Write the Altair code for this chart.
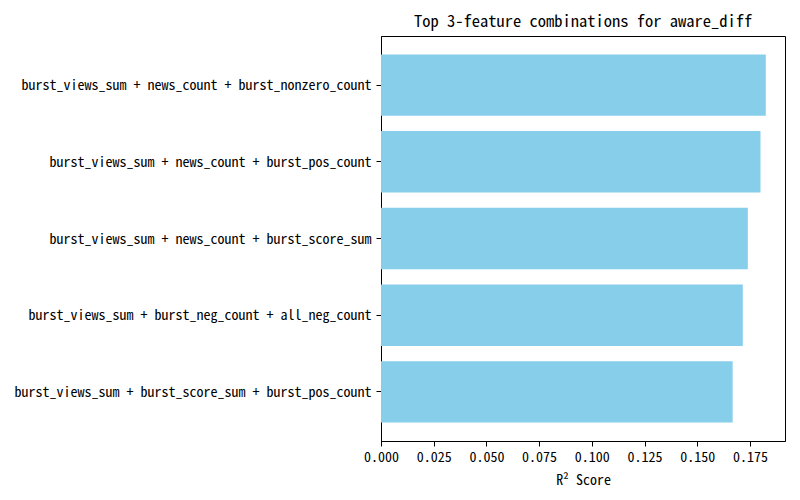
import altair as alt
import pandas as pd

combos = [
    "burst_views_sum + news_count + burst_nonzero_count",
    "burst_views_sum + news_count + burst_pos_count",
    "burst_views_sum + news_count + burst_score_sum",
    "burst_views_sum + burst_neg_count + all_neg_count",
    "burst_views_sum + burst_score_sum + burst_pos_count",
]
r2_scores = [0.1825, 0.1800, 0.1740, 0.1716, 0.1668]
x_ticks = [0.0, 0.025, 0.05, 0.075, 0.1, 0.125, 0.15, 0.175]

df = pd.DataFrame({"combo": combos, "r2": r2_scores})

FONT = "Noto Sans Mono CJK JP, Noto Sans CJK JP, Liberation Mono"

chart = alt.Chart(df).mark_bar(color="#87CEEB").encode(
    x=alt.X("r2:Q",
            scale=alt.Scale(domain=[0, max(r2_scores) * 1.05], nice=False, zero=True),
            axis=alt.Axis(title="R² Score", values=x_ticks, format=".3f",
                          grid=False, domainColor="black", tickColor="black",
                          tickSize=5, labelColor="black", labelFontSize=14,
                          labelFont=FONT, titleFont=FONT, titleFontSize=14,
                          titleFontWeight="normal", titleColor="black",
                          labelPadding=4, titlePadding=9, labelFlush=False)),
    y=alt.Y("combo:N", sort=None,
            scale=alt.Scale(paddingInner=0.2, paddingOuter=0.24),
            axis=alt.Axis(title=None, grid=False, domainColor="black",
                          tickColor="black", tickSize=5, labelColor="black",
                          labelFontSize=14, labelFont=FONT, labelPadding=5,
                          labelLimit=500, labelOffset=1)),
).properties(
    width=404,
    height=405,
    title=alt.TitleParams("Top 3-feature combinations for aware_diff",
                          fontSize=16.5, fontWeight="normal", font=FONT,
                          color="black", anchor="middle", offset=6),
    autosize=alt.AutoSizeParams(type="none"),
    padding={"left": 373, "top": 28, "right": 7, "bottom": 51},
).configure_view(stroke="black", strokeWidth=1)

chart.save("out.html", embed_options={"renderer": "svg", "actions": False})
